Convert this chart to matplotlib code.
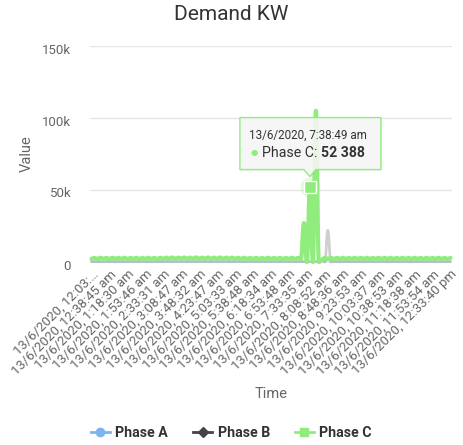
import numpy as np
import matplotlib
matplotlib.use('Agg')
import matplotlib.pyplot as plt
from matplotlib.path import Path
from matplotlib.patches import PathPatch, Polygon
from matplotlib.lines import Line2D
from matplotlib.transforms import IdentityTransform, ScaledTranslation

plt.rcParams['font.family'] = ['Roboto', 'DejaVu Sans']

title = "Demand KW"
y_label = "Value"
x_label = "Time"
series_names = ["Phase A", "Phase B", "Phase C"]
series_colors = ["#7cb5ec", "#434348", "#90ed7d"]

tick_labels = [
    "13/6/2020, 12:03:…", "13/6/2020, 12:38:45 am", "13/6/2020, 1:18:30 am",
    "13/6/2020, 1:53:46 am", "13/6/2020, 2:33:31 am", "13/6/2020, 3:08:47 am",
    "13/6/2020, 3:48:32 am", "13/6/2020, 4:23:47 am", "13/6/2020, 5:03:33 am",
    "13/6/2020, 5:38:48 am", "13/6/2020, 6:18:34 am", "13/6/2020, 6:53:48 am",
    "13/6/2020, 7:33:35 am", "13/6/2020, 8:08:52 am", "13/6/2020, 8:48:36 am",
    "13/6/2020, 9:23:53 am", "13/6/2020, 10:03:37 am", "13/6/2020, 10:38:53 am",
    "13/6/2020, 11:18:38 am", "13/6/2020, 11:53:54 am", "13/6/2020, 12:33:40 pm",
]
label_step = 6

phase_a = [
    300, 350, 300, 320, 300, 340, 310, 330, 300, 350, 300, 320,
    300, 340, 310, 330, 300, 350, 300, 320, 300, 340, 310, 330,
    300, 350, 300, 320, 300, 340, 310, 330, 300, 350, 300, 320,
    300, 340, 310, 330, 300, 350, 300, 320, 300, 340, 310, 330,
    300, 350, 300, 320, 300, 340, 310, 330, 300, 350, 300, 320,
    300, 340, 310, 330, 300, 350, 300, 320, 300, 340, 310, 330,
    300, 350, 300, 320, 300, 340, 310, 330, 300, 350, 300, 320,
    300, 340, 310, 330, 300, 350, 300, 320, 300, 340, 310, 330,
    300, 350, 300, 320, 300, 340, 310, 330, 300, 350, 300, 320,
    300, 340, 310, 330, 300, 350, 300, 320, 300, 340, 310, 330,
    300,
]
phase_b = [
    200, 250, 200, 220, 200, 240, 210, 230, 200, 250, 200, 220,
    200, 240, 210, 230, 200, 250, 200, 220, 200, 240, 210, 230,
    200, 250, 200, 220, 200, 240, 210, 230, 200, 250, 200, 220,
    200, 240, 210, 230, 200, 250, 200, 220, 200, 240, 210, 230,
    200, 250, 200, 220, 200, 240, 210, 230, 200, 250, 200, 220,
    200, 240, 210, 230, 200, 250, 200, 220, 200, 240, 210, 230,
    200, 250, 200, 220, 200, 1500, 0, 22000, 0, 200, 200, 220,
    200, 240, 210, 230, 200, 250, 200, 220, 200, 240, 210, 230,
    200, 250, 200, 220, 200, 240, 210, 230, 200, 250, 200, 220,
    200, 240, 210, 230, 200, 250, 200, 220, 200, 240, 210, 230,
    200,
]
phase_c = [
    2200, 2800, 2100, 2900, 2200, 2800, 2100, 2900, 2300, 2800, 2200, 2900,
    2100, 2800, 2200, 2900, 2100, 2800, 2300, 2900, 2200, 2800, 2100, 2900,
    2200, 3000, 2300, 3100, 2200, 3000, 2300, 3100, 2200, 3000, 2300, 3200,
    2200, 3000, 2300, 3100, 2200, 3000, 2300, 3100, 2200, 3000, 2300, 3000,
    2200, 2900, 2200, 2900, 2100, 2800, 2200, 2900, 2100, 2800, 2200, 2900,
    2100, 2800, 2200, 2900, 2100, 2800, 2200, 2900, 2100, 2800, 2200, 27000,
    0, 52388, 0, 105000, 0, 1500, 2800, 2200, 2900, 2100, 2800, 2200,
    2900, 2100, 2800, 2200, 2900, 2100, 2800, 2200, 2900, 2100, 2800, 2200,
    2900, 2100, 2800, 2200, 2900, 2100, 2800, 2200, 2900, 2100, 2800, 2200,
    2900, 2100, 2800, 2200, 2900, 2100, 2800, 2200, 2900, 2100, 2800, 2200,
    2900,
]
y_ticks = [0, 50000, 100000, 150000]
y_tick_labels = ["0", "50k", "100k", "150k"]
tooltip_index = 73
tooltip_time = "13/6/2020, 7:38:49 am"
tooltip_value = "52 388"


def spline_path(x, y, smoothing=1.5):
    n = len(x)
    denom = smoothing + 1
    lc, rc = [None] * n, [None] * n
    for i in range(n):
        px, py = x[i], y[i]
        if 0 < i < n - 1:
            lx, ly = x[i - 1], y[i - 1]
            nx, ny = x[i + 1], y[i + 1]
            lcx = (smoothing * px + lx) / denom
            lcy = (smoothing * py + ly) / denom
            rcx = (smoothing * px + nx) / denom
            rcy = (smoothing * py + ny) / denom
            if rcx != lcx:
                corr = (rcy - lcy) * (rcx - px) / (rcx - lcx) + py - rcy
                lcy += corr
                rcy += corr
                if lcy > ly and lcy > py:
                    lcy = max(ly, py); rcy = 2 * py - lcy
                elif lcy < ly and lcy < py:
                    lcy = min(ly, py); rcy = 2 * py - lcy
                if rcy > ny and rcy > py:
                    rcy = max(ny, py); lcy = 2 * py - rcy
                elif rcy < ny and rcy < py:
                    rcy = min(ny, py); lcy = 2 * py - rcy
            lc[i], rc[i] = (lcx, lcy), (rcx, rcy)
        else:
            lc[i] = rc[i] = (px, py)
    verts = [(x[0], y[0])]
    codes = [Path.MOVETO]
    for i in range(1, n):
        verts += [rc[i - 1], lc[i], (x[i], y[i])]
        codes += [Path.CURVE4] * 3
    return Path(verts, codes)


W, H = 463, 445
fig = plt.figure(figsize=(W / 100, H / 100), dpi=100)
ax = fig.add_axes([90 / W, 1 - 262 / H, (452 - 90) / W, (262 - 46) / H])
N = len(phase_c)
xs = np.arange(N)
ax.set_xlim(-0.5, N - 0.5)
ax.set_ylim(0, 150000)
for s in ax.spines.values():
    s.set_visible(False)
ax.set_facecolor('none')

for yv in y_ticks[1:]:
    ax.axhline(yv, color='#e6e6e6', lw=1, zorder=0)
ax.axhline(0, color='#ccd6eb', lw=1, zorder=0)

alphas = [0.25, 0.25, 1.0]
widths = [2, 2, 3]
for data, col, a, lw in zip([phase_a, phase_b, phase_c], series_colors, alphas, widths):
    p = PathPatch(spline_path(xs, np.array(data, dtype=float)), fill=False,
                  edgecolor=col, alpha=a, lw=lw, joinstyle='round', capstyle='round',
                  clip_on=False, zorder=3)
    ax.add_patch(p)

# hover marker
ax.plot([tooltip_index], [phase_c[tooltip_index]], 'o', ms=14.4, color=series_colors[2],
        alpha=0.25, mec='none', zorder=4, clip_on=False)
ax.plot([tooltip_index], [phase_c[tooltip_index]], 's', ms=8.6, mfc=series_colors[2],
        mec='white', mew=1, zorder=5, clip_on=False)

ax.set_yticks(y_ticks, y_tick_labels)
ax.tick_params(axis='y', length=0, pad=13.5, labelsize=9.5, labelcolor='#666666')
for lab in ax.get_yticklabels():
    lab.set_transform(lab.get_transform() + ScaledTranslation(0, -0.025, fig.dpi_scale_trans))

ax.set_xticks(xs[::label_step], tick_labels)
ax.tick_params(axis='x', length=0, pad=4, labelsize=9.5, labelcolor='#666666')
for lab in ax.get_xticklabels():
    lab.set_rotation(45)
    lab.set_ha('right')
    lab.set_va('top')
    lab.set_rotation_mode('anchor')

fig.text(26.5 / W, 1 - 154 / H, y_label, rotation=90, ha='center', va='center',
         fontsize=10.5, color='#666666')
fig.text(271 / W, 1 - 394 / H, x_label, ha='center', va='center', fontsize=10.5, color='#666666')
fig.text(0.5, 1 - 15 / H, title, ha='center', va='center', fontsize=15, color='#333333')

handles = [
    Line2D([], [], color=series_colors[0], lw=2, marker='o', ms=6),
    Line2D([], [], color=series_colors[1], lw=2, marker='D', ms=5),
    Line2D([], [], color=series_colors[2], lw=2, marker='s', ms=6),
]
fig.legend(handles, series_names, loc='center', bbox_to_anchor=(0.5, 1 - 433 / H), ncol=3,
           frameon=False, handlelength=1.3, handletextpad=0.4, columnspacing=1.8,
           prop={'weight': 'bold', 'size': 10.2}, labelcolor='#333333')

# tooltip
px, py = ax.transData.transform((tooltip_index, phase_c[tooltip_index]))
L, R, T, B, tip = px - 70, px + 71, py + 69, py + 17, py + 10
pts = [(L, T), (R, T), (R, B), (px + 6, B), (px, tip), (px - 6, B), (L, B)]
shadow = Polygon([(a + 1, b - 1) for a, b in pts], closed=True, facecolor='black', alpha=0.06,
                 edgecolor='none', transform=IdentityTransform(), zorder=6)
fig.add_artist(shadow)
box = Polygon(pts, closed=True, facecolor=(247 / 255, 247 / 255, 247 / 255, 0.88),
              edgecolor=series_colors[2], lw=1, transform=IdentityTransform(), zorder=7)
fig.add_artist(box)
fig.text(px - 61, py + 51, tooltip_time, transform=IdentityTransform(), ha='left', va='center',
         fontsize=8.4, color='#333333', zorder=8)
fig.text(px - 59, py + 34, "●", transform=IdentityTransform(), ha='left', va='center',
         fontsize=6, color=series_colors[2], zorder=8, family=['DejaVu Sans'])
t1 = fig.text(px - 48, py + 34, "Phase C: ", transform=IdentityTransform(), ha='left',
              va='center', fontsize=10.2, color='#333333', zorder=8)
r = fig.canvas.get_renderer()
bb = t1.get_window_extent(renderer=r)
fig.text(bb.x1, py + 34, tooltip_value, transform=IdentityTransform(), ha='left', va='center',
         fontsize=10.2, color='#333333', weight='bold', zorder=8)

fig.savefig('out.png', dpi=100)
